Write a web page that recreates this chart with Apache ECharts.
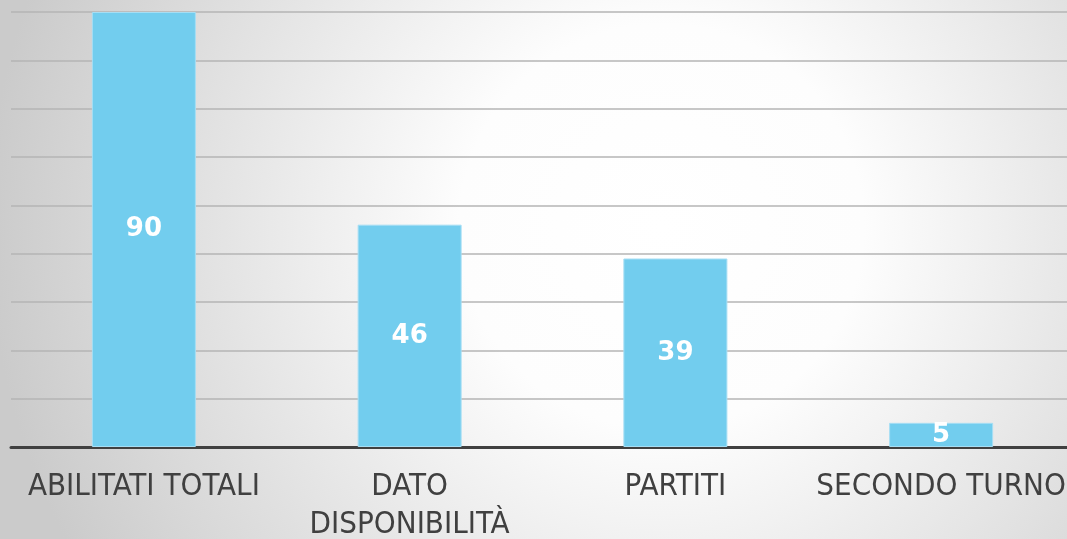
<!DOCTYPE html>
<html><head><meta charset="utf-8">
<script src="https://cdn.jsdelivr.net/npm/echarts@6/dist/echarts.min.js"></script>
<style>html,body{margin:0;padding:0;}#c{width:1067px;height:539px;}</style>
</head><body><div id="c"></div>
<script>
const categories = ['ABILITATI TOTALI', 'DATO\nDISPONIBILITÀ', 'PARTITI', 'SECONDO TURNO'];
const values = [90, 46, 39, 5];
const axisMin = 0, axisMax = 90, axisStep = 10;

const chart = echarts.init(document.getElementById('c'));
chart.setOption({
  backgroundColor: {
    type: 'radial', x: 0.62, y: 0.42, r: 1.25,
    colorStops: [{offset: 0, color: '#ffffff'}, {offset: 0.3, color: '#fdfdfd'}, {offset: 1, color: '#cbcbcb'}]
  },
  animation: false,
  grid: {left: 11, right: -7, top: 12, bottom: 92, containLabel: false, outerBoundsMode: 'none'},
  xAxis: {
    type: 'category', data: categories,
    axisLine: {show: true, lineStyle: {color: '#404040', width: 3}},
    axisTick: {show: false},
    axisLabel: {color: '#404040', fontFamily: 'DejaVu Sans Condensed', fontSize: 31, margin: 21, lineHeight: 38, interval: 0}
  },
  yAxis: {
    type: 'value', min: axisMin, max: axisMax, interval: axisStep,
    axisLine: {show: false}, axisTick: {show: false}, axisLabel: {show: false},
    splitLine: {lineStyle: {color: '#b4b4b4', width: 1.5}}
  },
  series: [{
    type: 'bar', data: values, barWidth: 104,
    itemStyle: {color: '#72cdee', borderColor: '#a6def4', borderWidth: 1},
    label: {show: true, position: 'inside', color: '#ffffff', fontFamily: 'DejaVu Sans', fontWeight: 'bold', fontSize: 26}
  }]
});
</script></body></html>
